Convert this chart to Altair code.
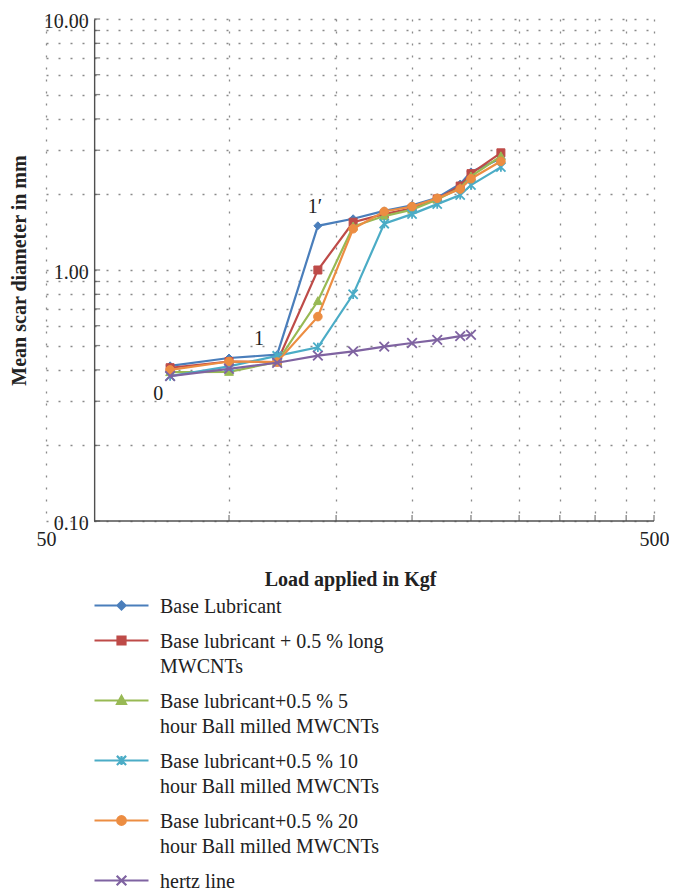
import math
import altair as alt
import pandas as pd

# ---------------- data ----------------
loads = [80, 100, 120, 140, 160, 180, 200, 220, 240, 250, 280]
hertz_loads = [80, 100, 120, 140, 160, 180, 200, 220, 240, 250]

series_names = [
    "Base Lubricant",
    "Base lubricant + 0.5 % long\nMWCNTs",
    "Base lubricant+0.5 % 5\nhour Ball milled MWCNTs",
    "Base lubricant+0.5 % 10\nhour Ball milled MWCNTs",
    "Base lubricant+0.5 % 20\nhour Ball milled MWCNTs",
    "hertz line",
]
base_lub = [0.415, 0.446, 0.460, 1.50, 1.60, 1.72, 1.81, 1.94, 2.20, 2.46, 2.78]
long_mwcnt = [0.408, 0.432, 0.430, 1.00, 1.55, 1.67, 1.76, 1.92, 2.16, 2.42, 2.93]
bm5 = [0.392, 0.393, 0.430, 0.752, 1.49, 1.64, 1.74, 1.91, 2.12, 2.36, 2.84]
bm10 = [0.378, 0.413, 0.455, 0.492, 0.800, 1.53, 1.67, 1.83, 1.99, 2.18, 2.57]
bm20 = [0.400, 0.432, 0.430, 0.652, 1.46, 1.71, 1.79, 1.93, 2.10, 2.31, 2.71]
hertz = [0.378, 0.404, 0.427, 0.456, 0.474, 0.495, 0.512, 0.527, 0.545, 0.552]

annot_text = ["0", "1", "1\u2032"]
annot_load = [76.5, 112.0, 138.5]
annot_diam = [0.322, 0.530, 1.78]

x_domain = [50, 500]
y_domain = [0.1, 10]
x_grid = [50, 100, 150, 200, 250, 300, 350, 400, 450, 500]
x_labels = [50, 500]
y_grid = [0.1, 0.2, 0.3, 0.4, 0.5, 0.6, 0.7, 0.8, 0.9,
          1, 2, 3, 4, 5, 6, 7, 8, 9, 10]
y_labels = [0.1, 1, 10]
axis_cross = 60  # load at which the vertical axis crosses

# ---------------- style ----------------
colors = ["#4A7EBB", "#BE4B48", "#98B954", "#4BACC6", "#EC8D42", "#7F63A1"]
kinds = ["diamond", "square", "triangle", "star", "circle", "x"]
half = [4.0, 4.0, 4.4, 4.6, 4.3, 4.8]      # marker half size in px
FONT = "Liberation Serif"
W, H = 608, 502


def f(v):
    return f"{v:.3f}".rstrip("0").rstrip(".")


def marker_path(kind, cx, cy, h):
    if kind == "diamond":
        return f"M{f(cx)},{f(cy-h)}L{f(cx+h)},{f(cy)}L{f(cx)},{f(cy+h)}L{f(cx-h)},{f(cy)}Z"
    if kind == "square":
        return f"M{f(cx-h)},{f(cy-h)}L{f(cx+h)},{f(cy-h)}L{f(cx+h)},{f(cy+h)}L{f(cx-h)},{f(cy+h)}Z"
    if kind == "triangle":
        return f"M{f(cx)},{f(cy-h)}L{f(cx+h)},{f(cy+0.8*h)}L{f(cx-h)},{f(cy+0.8*h)}Z"
    if kind == "circle":
        return (f"M{f(cx+h)},{f(cy)}A{f(h)},{f(h)},0,1,1,{f(cx-h)},{f(cy)}"
                f"A{f(h)},{f(h)},0,1,1,{f(cx+h)},{f(cy)}Z")
    if kind == "star":
        return (f"M{f(cx-h)},{f(cy-h)}L{f(cx+h)},{f(cy+h)}M{f(cx-h)},{f(cy+h)}L{f(cx+h)},{f(cy-h)}"
                f"M{f(cx)},{f(cy-h)}L{f(cx)},{f(cy+h)}")
    return f"M{f(cx-h)},{f(cy-h)}L{f(cx+h)},{f(cy+h)}M{f(cx-h)},{f(cy+h)}L{f(cx+h)},{f(cy-h)}"


LEG_W = 54.0             # legend symbol width in px
K = LEG_W / 2            # px per unit for legend symbol path
DY = -7.0 / K            # lift symbol to middle of first label line
legend_paths = [
    f"M-1,{f(DY)}L1,{f(DY)}" + marker_path(k, 0, DY, h / K) for k, h in zip(kinds, half)
]

# ---------------- tables ----------------
all_series = [base_lub, long_mwcnt, bm5, bm10, bm20]
rows = []
for name, vals in zip(series_names[:5], all_series):
    for L, d in zip(loads, vals):
        rows.append({"series": name, "load": L, "diam": d})
for L, d in zip(hertz_loads, hertz):
    rows.append({"series": series_names[5], "load": L, "diam": d})
df = pd.DataFrame(rows)

xscale = alt.Scale(type="log", domain=x_domain, nice=False)
yscale = alt.Scale(type="log", domain=y_domain, nice=False)

y_offset = -W * math.log10(axis_cross / x_domain[0]) / math.log10(x_domain[1] / x_domain[0])

x_label_expr = "indexof(" + str(x_labels) + ", datum.value) >= 0 ? datum.label : ''"
y_label_expr = "indexof(" + str(y_labels) + ", datum.value) >= 0 ? format(datum.value, '.2f') : ''"

xaxis = alt.Axis(
    values=x_grid, labelExpr=x_label_expr, grid=True, ticks=False, domain=False,
    gridColor="#8a8a8a", gridDash=[2, 10], gridWidth=1.3,
    labelFont=FONT, labelFontSize=20, labelColor="#222", labelPadding=8,
    labelFlush=False, labelOverlap=False,
    title="Load applied in Kgf", titleFont=FONT, titleFontSize=20, titleFontWeight="bold",
    titleColor="#222", titleY=64, titleBaseline="alphabetic",
)
yaxis = alt.Axis(
    values=y_grid, labelExpr=y_label_expr, grid=True, ticks=False, domain=True,
    domainColor="#505050", domainWidth=1.4, offset=y_offset,
    gridColor="#8a8a8a", gridDash=[2, 10], gridWidth=1.3,
    labelFont=FONT, labelFontSize=20, labelColor="#222", labelPadding=6,
    labelOffset=2, labelFlush=False, labelOverlap=False,
    title="Mean scar diameter in mm", titleFont=FONT, titleFontSize=20,
    titleFontWeight="bold", titleColor="#222", titleX=-75, titleBaseline="middle",
)


def X(field="load"):
    return alt.X(f"{field}:Q", scale=xscale, axis=xaxis)


def Y(field="diam"):
    return alt.Y(f"{field}:Q", scale=yscale, axis=yaxis)


base = alt.Chart(df)
layers = []

# inner tick marks and x axis line
yticks = pd.DataFrame({"diam": y_grid})
xticks = pd.DataFrame({"load": x_grid[1:]})
layers.append(alt.Chart(yticks).mark_tick(orient="horizontal", size=6, thickness=1.3,
                                           xOffset=3, color="#505050").encode(
    x=alt.XDatum(axis_cross, type="quantitative", scale=xscale, axis=xaxis),
    y=Y()))
layers.append(alt.Chart(xticks).mark_tick(orient="vertical", size=6, thickness=1.3,
                                           yOffset=-3, color="#505050").encode(
    x=X(),
    y=alt.YDatum(y_domain[0], type="quantitative", scale=yscale, axis=yaxis)))
layers.append(alt.Chart(pd.DataFrame({"a": [0]})).mark_rule(color="#505050", strokeWidth=1.4).encode(
    x=alt.XDatum(axis_cross, type="quantitative", scale=xscale, axis=xaxis),
    x2=alt.X2Datum(x_domain[1]),
    y=alt.YDatum(y_domain[0], type="quantitative", scale=yscale, axis=yaxis)))

# series: line then markers, in drawing order
for name, c, k, h in zip(series_names, colors, kinds, half):
    sub = base.transform_filter(alt.datum.series == name)
    layers.append(sub.mark_line(color=c, strokeWidth=2.2).encode(x=X(), y=Y()))
    stroke_only = k in ("star", "x")
    layers.append(sub.mark_point(
        shape=marker_path(k, 0, 0, 1), size=(2 * h) ** 2, filled=True, fill=c,
        stroke=c, strokeWidth=1.8 if stroke_only else 1, opacity=1).encode(x=X(), y=Y()))

# annotations
ann = pd.DataFrame({"t": annot_text, "load": annot_load, "diam": annot_diam})
layers.append(alt.Chart(ann).mark_text(font=FONT, fontSize=20, color="#222",
                                       baseline="middle", align="center").encode(
    x=X(), y=Y(), text="t:N"))

# legend-carrying layer (its points are clipped out of view)
legend = alt.Legend(
    orient="none", legendX=47, legendY=565, direction="vertical", columns=1,
    title=None, padding=0, rowPadding=2,
    labelFont=FONT, labelFontSize=20, labelColor="#222", labelBaseline="alphabetic",
    labelOffset=10, labelLimit=500, labelExpr="split(datum.label, '\\n')",
    symbolSize=LEG_W ** 2, symbolStrokeWidth=2.2, symbolOpacity=1,
)
leg_df = pd.DataFrame({"series": series_names})
layers.append(alt.Chart(leg_df).mark_point(filled=True, opacity=1, size=LEG_W ** 2,
                                           strokeWidth=2.2, clip=True).encode(
    x=alt.value(-300), y=alt.value(-300),
    fill=alt.Fill("series:N", scale=alt.Scale(domain=series_names, range=colors),
                  legend=legend, sort=None),
    stroke=alt.Stroke("series:N", scale=alt.Scale(domain=series_names, range=colors),
                      legend=legend, sort=None),
    shape=alt.Shape("series:N", scale=alt.Scale(domain=series_names, range=legend_paths),
                    legend=legend, sort=None),
))

chart = alt.layer(*layers).properties(
    width=W, height=H,
    autosize=alt.AutoSizeParams(type="none"),
    padding={"left": 38, "top": 11, "right": 15, "bottom": 374},
    background="white",
).configure(
    style={"guide-label": {"lineHeight": 25}},
    view={"stroke": None},
)

chart.save("out.html", embed_options={"renderer": "svg", "actions": False})
